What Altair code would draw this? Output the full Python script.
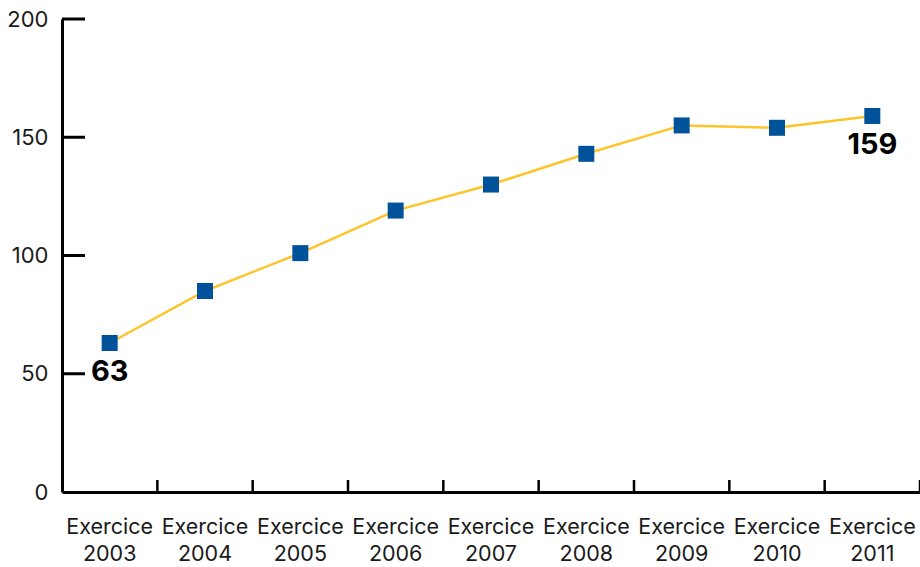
import altair as alt
import pandas as pd

# Yearly series, one point per financial year
categories = ["Exercice 2003", "Exercice 2004", "Exercice 2005", "Exercice 2006",
              "Exercice 2007", "Exercice 2008", "Exercice 2009", "Exercice 2010",
              "Exercice 2011"]
values = [63, 85, 101, 119, 130, 143, 155, 154, 159]
y_ticks = [50, 100, 150, 200]
labelled = ["Exercice 2003", "Exercice 2011"]

df = pd.DataFrame({"cat": categories, "value": values})
df["label"] = [str(v) if c in labelled else "" for c, v in zip(categories, values)]
ticks_df = pd.DataFrame({"t": y_ticks})
cats_df = pd.DataFrame({"cat": categories})

FONT = "Inter"
W, H = 858, 473

x_scale = alt.Scale(domain=categories, paddingInner=0, paddingOuter=0)
y_scale = alt.Scale(domain=[0, 200])

x_axis = alt.Axis(
    labelAngle=0, ticks=False, domainColor="black", domainWidth=3,
    labelFont=FONT, labelFontSize=21.5, labelColor="#1a1a1a",
    labelExpr="split(datum.label, ' ')", labelLineHeight=27,
    labelPadding=24, labelBaseline="top", grid=False,
)
y_axis = alt.Axis(
    values=[0, 50, 100, 150, 200], ticks=False, domainColor="black",
    domainWidth=3, labelFont=FONT, labelFontSize=22, labelColor="#1a1a1a",
    labelPadding=14, grid=False,
)
x_enc = alt.X("cat:N", scale=x_scale, sort=categories, title=None, axis=x_axis)
y_enc = alt.Y("value:Q", scale=y_scale, title=None, axis=y_axis)

line = alt.Chart(df).mark_line(color="#FDC52A", strokeWidth=2.5).encode(x=x_enc, y=y_enc)
points = alt.Chart(df).mark_point(
    shape="square", filled=True, size=256, color="#00529B", opacity=1
).encode(x=x_enc, y=y_enc)
labels = alt.Chart(df).mark_text(
    font=FONT, fontSize=29, fontWeight="bold", color="black", dy=29, baseline="middle"
).encode(x=x_enc, y=y_enc, text="label:N")

# Inward tick marks on the value axis
y_tick_marks = alt.Chart(ticks_df).mark_rule(color="black", strokeWidth=3).encode(
    y=alt.Y("t:Q", scale=y_scale, title=None, axis=y_axis), x=alt.value(0), x2=alt.value(23)
)
# Inward tick marks on the category axis, at band edges
x_tick_marks = alt.Chart(cats_df).mark_rule(color="black", strokeWidth=2.5).encode(
    x=alt.X("cat:N", scale=x_scale, sort=categories, bandPosition=1, title=None, axis=x_axis),
    y=alt.value(H - 12), y2=alt.value(H),
)

chart = (
    alt.layer(line, y_tick_marks, x_tick_marks, points, labels)
    .properties(width=W, height=H, padding={"left": 62, "top": 19, "right": 0, "bottom": 75},
                autosize=alt.AutoSizeParams(type="none"), background="white")
    .configure_view(stroke="transparent", strokeWidth=0)
)

chart.save("out.html", embed_options={"renderer": "svg", "actions": False})
